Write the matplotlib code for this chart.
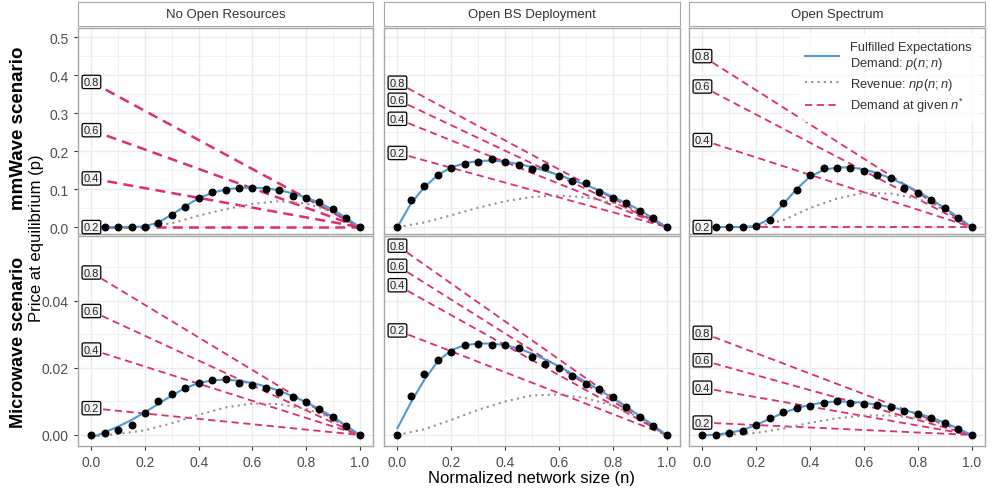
import numpy as np
import matplotlib
matplotlib.use('Agg')
import matplotlib.pyplot as plt
from matplotlib.ticker import MultipleLocator

plt.rcParams['font.family'] = ['Liberation Sans', 'DejaVu Sans']
plt.rcParams['mathtext.fontset'] = 'custom'
plt.rcParams['mathtext.it'] = 'Liberation Sans:italic'
plt.rcParams['mathtext.rm'] = 'Liberation Sans'

# network size grid (simulated points) and coarse grid for revenue
n_fine = [0.0, 0.05, 0.1, 0.15, 0.2, 0.25, 0.3, 0.35, 0.4, 0.45, 0.5,
          0.55, 0.6, 0.65, 0.7, 0.75, 0.8, 0.85, 0.9, 0.95, 1.0]
n_coarse = [0.0, 0.1, 0.2, 0.3, 0.4, 0.5, 0.6, 0.7, 0.8, 0.9, 1.0]
n_star = ['0.2', '0.4', '0.6', '0.8']

columns = ['No Open Resources', 'Open BS Deployment', 'Open Spectrum']
rows = ['mmWave scenario', 'Microwave scenario']

# --- mmWave, no open resources
mm_none_dots = [0, 0, 0, 0, 0, 0.010, 0.032, 0.052, 0.077, 0.091, 0.097,
                0.102, 0.103, 0.099, 0.098, 0.083, 0.077, 0.065, 0.047, 0.024, 0]
mm_none_curve = [0, 0, 0, 0, 0.002, 0.012, 0.033, 0.055, 0.076, 0.090, 0.099,
                 0.103, 0.104, 0.102, 0.097, 0.089, 0.078, 0.064, 0.046, 0.024, 0]
mm_none_rev = [0, 0, 0, 0.010, 0.030, 0.047, 0.061, 0.068, 0.062, 0.041, 0]
mm_none_icpt = [0.0, 0.128, 0.255, 0.382]

# --- mmWave, open BS deployment
mm_bs_dots = [0, 0.070, 0.109, 0.137, 0.156, 0.166, 0.172, 0.179, 0.170, 0.164, 0.153,
              0.157, 0.134, 0.122, 0.117, 0.092, 0.077, 0.063, 0.043, 0.023, 0]
mm_bs_curve = [0, 0.062, 0.105, 0.137, 0.157, 0.168, 0.174, 0.175, 0.172, 0.166, 0.158,
               0.148, 0.137, 0.124, 0.111, 0.096, 0.080, 0.063, 0.045, 0.023, 0]
mm_bs_rev = [0, 0.012, 0.031, 0.051, 0.068, 0.079, 0.083, 0.078, 0.064, 0.041, 0]
mm_bs_icpt = [0.195, 0.285, 0.335, 0.38]

# --- mmWave, open spectrum
mm_spec_dots = [0, 0, 0, 0, 0.004, 0.019, 0.063, 0.097, 0.138, 0.155, 0.155,
                0.155, 0.147, 0.136, 0.128, 0.103, 0.090, 0.071, 0.049, 0.024, 0]
mm_spec_curve = [0, 0, 0, 0, 0.003, 0.022, 0.060, 0.100, 0.133, 0.150, 0.157,
                 0.157, 0.152, 0.142, 0.128, 0.112, 0.094, 0.073, 0.050, 0.026, 0]
mm_spec_rev = [0, 0, 0.001, 0.018, 0.050, 0.075, 0.090, 0.088, 0.075, 0.045, 0]
mm_spec_icpt = [0.0, 0.229, 0.37, 0.45]

# --- microwave, no open resources
mw_none_dots = [0, 0.0006, 0.0014, 0.0030, 0.0067, 0.0101, 0.0122, 0.0140, 0.0154, 0.0163, 0.0166,
                0.0155, 0.0149, 0.0139, 0.0129, 0.0113, 0.0098, 0.0078, 0.0053, 0.0027, 0]
mw_none_curve = [-0.0008, 0.0008, 0.0025, 0.0045, 0.0068, 0.0093, 0.0118, 0.0140, 0.0155, 0.0163, 0.0165,
                 0.0162, 0.0155, 0.0145, 0.0132, 0.0116, 0.0098, 0.0077, 0.0054, 0.0028, 0]
mw_none_rev = [-0.0005, 0.0003, 0.0014, 0.0035, 0.0060, 0.0082, 0.0094, 0.0092, 0.0078, 0.0050, 0]
mw_none_icpt = [0.008, 0.0255, 0.037, 0.0485]

# --- microwave, open BS deployment
mw_bs_dots = [0, 0.0115, 0.0183, 0.0225, 0.0247, 0.0268, 0.0271, 0.0268, 0.0268, 0.0259, 0.0234,
              0.0213, 0.0201, 0.0177, 0.0152, 0.0136, 0.0114, 0.0082, 0.0054, 0.0027, 0]
mw_bs_curve = [0.002, 0.0097, 0.0165, 0.0220, 0.0253, 0.0268, 0.0273, 0.0273, 0.0268, 0.0258, 0.0243,
               0.0225, 0.0205, 0.0182, 0.0158, 0.0134, 0.0110, 0.0084, 0.0057, 0.0029, 0]
mw_bs_rev = [0, 0.0017, 0.0045, 0.0075, 0.0100, 0.0118, 0.0121, 0.0110, 0.0088, 0.0052, 0]
mw_bs_icpt = [0.0312, 0.0447, 0.0505, 0.0565]

# --- microwave, open spectrum
mw_spec_dots = [0, 0.0001, 0.0005, 0.0012, 0.0031, 0.0052, 0.0068, 0.0081, 0.0085, 0.0096, 0.0101,
                0.0096, 0.0091, 0.0090, 0.0083, 0.0072, 0.0063, 0.0051, 0.0036, 0.0018, 0]
mw_spec_curve = [-0.0002, 0.0001, 0.0006, 0.0015, 0.0030, 0.0048, 0.0066, 0.0080, 0.0090, 0.0097, 0.0100,
                 0.0099, 0.0096, 0.0090, 0.0083, 0.0074, 0.0064, 0.0052, 0.0037, 0.0019, 0]
mw_spec_rev = [0, 0.0001, 0.0006, 0.0019, 0.0036, 0.0050, 0.0058, 0.0058, 0.0051, 0.0033, 0]
mw_spec_icpt = [0.0037, 0.0141, 0.0223, 0.0305]

panels = [
    [(mm_none_dots, mm_none_curve, mm_none_rev, mm_none_icpt),
     (mm_bs_dots, mm_bs_curve, mm_bs_rev, mm_bs_icpt),
     (mm_spec_dots, mm_spec_curve, mm_spec_rev, mm_spec_icpt)],
    [(mw_none_dots, mw_none_curve, mw_none_rev, mw_none_icpt),
     (mw_bs_dots, mw_bs_curve, mw_bs_rev, mw_bs_icpt),
     (mw_spec_dots, mw_spec_curve, mw_spec_rev, mw_spec_icpt)],
]

BLUE = '#4C9AD8'
BROWN = '#A38F7E'
PINK = '#E02D6B'
GRID = '#EBEBEB'
BORDER = '#A6A6A6'
TXT = '#4D4D4D'

W, H = 998, 489
fig = plt.figure(figsize=(W / 100, H / 100), dpi=100)


def box(l, t, r, b):
    return [l / W, 1 - b / H, (r - l) / W, (b - t) / H]


col_px = [(78, 373), (384, 680), (689, 985)]
row_px = [(29, 234.5), (237, 447)]
ylims = [(-0.017, 0.524), (-0.0033, 0.0594)]
ymajor = [0.1, 0.02]
yminor = [0.05, 0.01]
yfmt = ['%.1f', '%.2f']

axes = [[None] * 3 for _ in range(2)]
for r in range(2):
    for c in range(3):
        l, rr = col_px[c]
        t, b = row_px[r]
        ax = fig.add_axes(box(l, t, rr, b))
        axes[r][c] = ax
        dots, curve, rev, icpt = panels[r][c]

        ax.set_xlim(-0.05, 1.05)
        ax.set_ylim(*ylims[r])
        ax.xaxis.set_major_locator(MultipleLocator(0.2))
        ax.xaxis.set_minor_locator(MultipleLocator(0.1))
        ax.yaxis.set_major_locator(MultipleLocator(ymajor[r]))
        ax.yaxis.set_minor_locator(MultipleLocator(yminor[r]))
        ax.grid(True, which='major', color=GRID, lw=1.0, zorder=0)
        ax.grid(True, which='minor', color=GRID, lw=0.5, zorder=0)
        ax.set_axisbelow(True)
        for s in ax.spines.values():
            s.set_color(BORDER)
            s.set_linewidth(1.0)
        ax.tick_params(which='minor', length=0)
        ax.tick_params(which='major', length=3, color='#333333', labelcolor=TXT,
                       labelsize=10, direction='out')

        # demand lines at given n* (the first panel is drawn heavier in the original)
        dlw = 1.8 if (r, c) == (0, 0) else 1.3
        for a in icpt:
            ax.plot([0, 1], [a, 0], color=PINK, lw=dlw, ls=(0, (4, 2.5)), zorder=2)
        ax.plot(n_coarse, rev, color=BROWN, lw=1.5, ls=(0, (1, 2)), zorder=3)
        ax.plot(n_fine, curve, color=BLUE, lw=1.5, zorder=4)
        ax.plot(n_fine, dots, 'o', color='black', ms=4.7, zorder=5)
        for lab, a in zip(n_star, icpt):
            ax.text(0, a, lab, ha='center', va='center', fontsize=8, color='#222222', zorder=6,
                    bbox=dict(boxstyle='round,pad=0.15', fc='#F2F2F2', ec='black', lw=0.9))

        if c == 0:
            ax.yaxis.set_major_formatter(plt.FormatStrFormatter(yfmt[r]))
        else:
            ax.tick_params(axis='y', labelleft=False, length=0)
        if r == 1:
            ax.xaxis.set_major_formatter(plt.FormatStrFormatter('%.1f'))
        else:
            ax.tick_params(axis='x', labelbottom=False, length=0)

# facet strips
for c in range(3):
    l, rr = col_px[c]
    sax = fig.add_axes(box(l, 3, rr, 27))
    sax.set_xticks([])
    sax.set_yticks([])
    for s in sax.spines.values():
        s.set_color(BORDER)
    sax.text(0.5, 0.5, columns[c], ha='center', va='center', fontsize=9.5, color='#333333',
             transform=sax.transAxes)

# row labels and axis titles
fig.text(19 / W, 1 - 128 / H, rows[0], rotation=90, ha='center', va='center',
         fontsize=13.5, fontweight='bold')
fig.text(19 / W, 1 - 342 / H, rows[1], rotation=90, ha='center', va='center',
         fontsize=13, fontweight='bold')
fig.text(37 / W, 1 - 238 / H, 'Price at equilibrium (p)', rotation=90, ha='center',
         va='center', fontsize=12)
fig.text(531 / W, 1 - 479 / H, 'Normalized network size (n)', ha='center', va='center',
         fontsize=12)

# legend in the top-right panel
h1, = axes[0][2].plot([], [], color=BLUE, lw=1.5)
h2, = axes[0][2].plot([], [], color=BROWN, lw=1.5, ls=(0, (1, 2)))
h3, = axes[0][2].plot([], [], color=PINK, lw=1.3, ls=(0, (4, 2.5)))
leg = axes[0][2].legend([h1, h2, h3],
                        ['Fulfilled Expectations\nDemand: $p(n;n)$',
                         'Revenue: $np(n;n)$',
                         'Demand at given $n^{*}$'],
                        loc='upper right', fontsize=9.3, frameon=True, fancybox=False,
                        handlelength=2.6, handletextpad=0.9, labelspacing=0.35,
                        borderpad=0.5, bbox_to_anchor=(1.0, 1.0))
leg.get_frame().set_facecolor('white')
leg.get_frame().set_edgecolor('white')
for t in leg.get_texts():
    t.set_color('#333333')
    t.set_multialignment('left')

fig.savefig('out.png', dpi=100)
